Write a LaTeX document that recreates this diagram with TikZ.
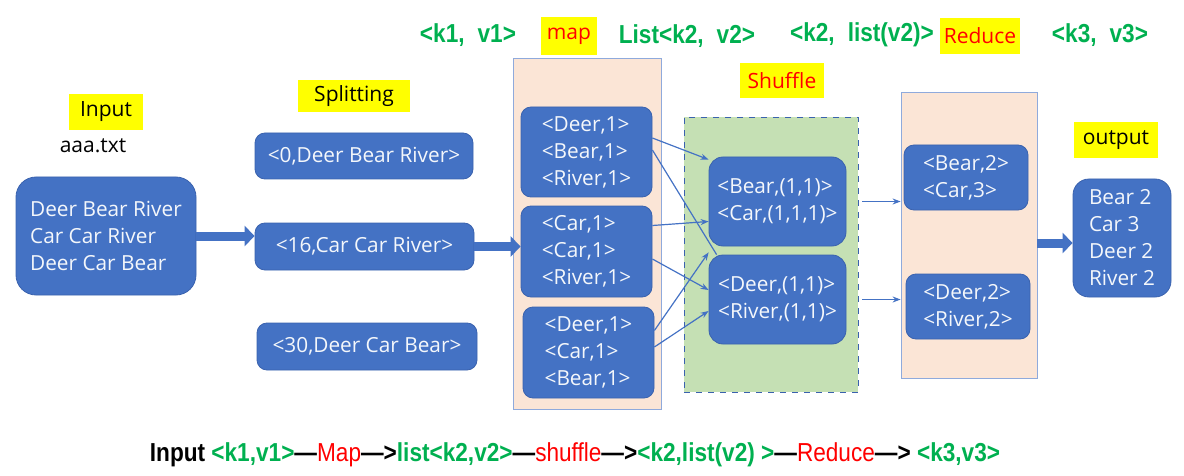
\documentclass[tikz,border=0pt]{standalone}
\usepackage{fontspec}
\setmainfont{Open Sans}
\newfontfamily\narrowfont[FakeStretch=0.87]{Liberation Sans}
\usetikzlibrary{arrows.meta}
\definecolor{boxblue}{HTML}{4472C4}
\definecolor{boxline}{HTML}{3A62AE}
\definecolor{peach}{HTML}{FBE5D6}
\definecolor{shufgreen}{HTML}{C5E0B4}
\definecolor{frameblue}{HTML}{8FAADC}
\definecolor{tagyellow}{HTML}{FFFF00}
\definecolor{keygreen}{HTML}{00B050}
\definecolor{tagred}{HTML}{FF0000}
\tikzstyle{bluebox}=[draw=boxline, fill=boxblue, rounded corners=5pt, text=white!94!boxblue, align=left, inner sep=0pt, font=\fontsize{10.4}{13.5}\selectfont]
\tikzstyle{stagebox}=[draw=frameblue, fill=peach, inner sep=0pt]
\tikzstyle{tag}=[fill=tagyellow, inner sep=0pt, font=\fontsize{10.5}{12}\selectfont]
\tikzstyle{keytext}=[text=keygreen, font=\narrowfont\bfseries\fontsize{13}{15}\selectfont]
\tikzstyle{fatarrow}=[boxblue, line width=4.5pt, -{Triangle[width=10pt,length=5pt]}]
\tikzstyle{thinarrow}=[boxblue, line width=0.6pt, -{Stealth[length=4pt,width=3pt]}]
\begin{document}
\begin{tikzpicture}[x=0.5pt, y=-0.5pt]
  \useasboundingbox (0,0) rectangle (1184,476);
  % top line of key/value types
  \node[keytext] (k1) at (468,35) {<k1,\hspace{0.5em}v1>};
  \node[tag, text=tagred, minimum width=28pt, minimum height=19pt] (maptag) at (569,36) {map};
  \node[keytext] (k2) at (687,36) {List<k2,\hspace{0.5em}v2>};
  \node[keytext] (k2l) at (862,35) {<k2,\hspace{0.5em}list(v2)>};
  \node[tag, text=tagred, minimum width=40pt, minimum height=18pt] (redtag) at (980,36) {Reduce};
  \node[keytext] (k3) at (1100,35) {<k3,\hspace{0.5em}v3>};
  % input
  \node[tag, minimum width=37pt, minimum height=18pt] (intag) at (106,112) {Input};
  \node[font=\fontsize{10.5}{12}\selectfont] (fname) at (93,146) {aaa.txt};
  \node[bluebox, rounded corners=10pt, minimum width=90pt, minimum height=59pt] (inbox) at (106,236)
    {Deer Bear River\\Car Car River\\Deer Car Bear};
  % splitting
  \node[tag, minimum width=56pt, minimum height=16pt] (splittag) at (354,96) {Splitting};
  \node[bluebox, minimum width=109pt, minimum height=23pt] (s1) at (364,156) {<0,Deer Bear River>};
  \node[bluebox, minimum width=109.5pt, minimum height=23.5pt] (s2) at (364.5,246.5) {<16,Car Car River>};
  \node[bluebox, minimum width=110pt, minimum height=23.5pt] (s3) at (367,346.5) {<30,Deer Car Bear>};
  % map
  \node[stagebox, minimum width=74pt, minimum height=175.5pt] (mapbg) at (587,233.5) {};
  \node[bluebox, minimum width=65.5pt, minimum height=45pt] (m1) at (586.5,152) {<Deer,1>\\<Bear,1>\\<River,1>};
  \node[bluebox, minimum width=65.5pt, minimum height=45.5pt] (m2) at (586.5,251.5) {<Car,1>\\<Car,1>\\<River,1>};
  \node[bluebox, minimum width=65.5pt, minimum height=45.5pt] (m3) at (588.5,352.5) {<Deer,1>\\<Car,1>\\<Bear,1>};
  % shuffle
  \node[tag, text=tagred, minimum width=42pt, minimum height=17.5pt] (shuftag) at (782,80.5) {Shuffle};
  \node[draw=boxline, dashed, fill=shufgreen, inner sep=0pt, minimum width=87pt, minimum height=137.5pt] (shufbg) at (771,254.5) {};
  \node[bluebox, rounded corners=7pt, minimum width=68.5pt, minimum height=44.5pt] (h1) at (777.5,201.5) {<Bear,(1,1)>\\<Car,(1,1,1)>};
  \node[bluebox, rounded corners=7pt, minimum width=68.5pt, minimum height=44.5pt] (h2) at (777.5,299.5) {<Deer,(1,1)>\\<River,(1,1)>};
  % reduce
  \node[stagebox, minimum width=68pt, minimum height=143pt] (redbg) at (969,235) {};
  \node[bluebox, minimum width=62pt, minimum height=32.5pt] (r1) at (966,177.5) {<Bear,2>\\<Car,3>};
  \node[bluebox, minimum width=62pt, minimum height=32.5pt] (r2) at (968,306.5) {<Deer,2>\\<River,2>};
  % output
  \node[tag, minimum width=42pt, minimum height=18pt] (outtag) at (1116,140) {output};
  \node[bluebox, rounded corners=8pt, minimum width=49pt, minimum height=59pt] (outbox) at (1122,238)
    {Bear 2\\Car 3\\Deer 2\\River 2};
  % connectors
  \draw[fatarrow] (inbox.east) -- (inbox.east -| s2.west);
  \draw[fatarrow] (s2.east) -- (s2.east -| m2.west);
  \draw[fatarrow] ([yshift=-4pt]redbg.east) -- ([yshift=-4pt]redbg.east -| outbox.west);
  \draw[thinarrow] ([yshift=7pt]m1.east) -- ([yshift=-1.5pt]h1.north west);
  \draw[boxblue, line width=0.6pt] ([yshift=1pt]m1.east) -- ([xshift=4pt]h2.north west);
  \draw[thinarrow] ([yshift=13pt]m2.east) -- ([yshift=-10pt]h1.west);
  \draw[thinarrow] ([yshift=-3.75pt]m2.east) -- ([yshift=4.75pt]h2.west);
  \draw[thinarrow] ([yshift=11pt]m3.east) -- ([yshift=-3pt]h1.south west);
  \draw[thinarrow] ([yshift=2.75pt]m3.east) -- ([yshift=-5.75pt]h2.west);
  \draw[thinarrow] ([xshift=2pt]shufbg.east |- h1.east) -- (redbg.west |- h1.east);
  \draw[thinarrow] ([xshift=2pt]shufbg.east |- h2.east) -- (redbg.west |- h2.east);
  % summary line
  \node[font=\narrowfont\bfseries\fontsize{13}{15}\selectfont] (flow) at (575,455)
    {Input \textcolor{keygreen}{<k1,v1>}—\textcolor{tagred}{\mdseries Map}—>\textcolor{keygreen}{list<k2,v2>}—\textcolor{tagred}{\mdseries shuffle}—>\textcolor{keygreen}{<k2,list(v2) >}—\textcolor{tagred}{\mdseries Reduce}—> \textcolor{keygreen}{<k3,v3>}};
\end{tikzpicture}
\end{document}
